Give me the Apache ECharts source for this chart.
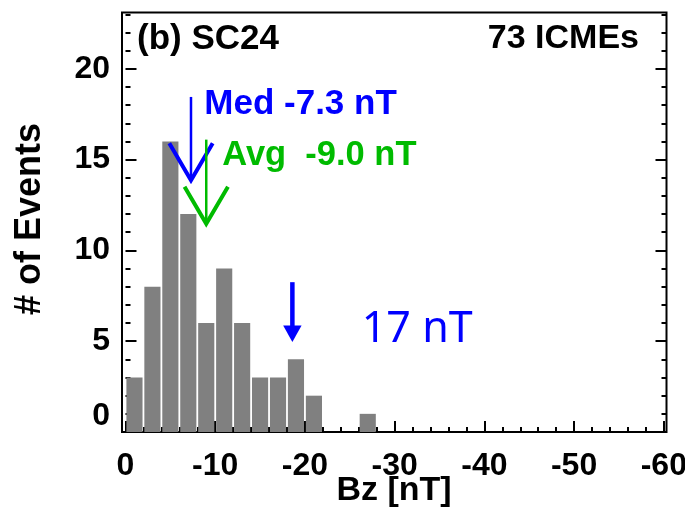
<!DOCTYPE html>
<html>
<head>
<meta charset="utf-8">
<script src="https://cdn.jsdelivr.net/npm/echarts@6/dist/echarts.min.js"></script>
<style>
  html, body { margin: 0; padding: 0; background: #ffffff; }
  #chart { width: 685px; height: 509px; }
</style>
</head>
<body>
<div id="chart"></div>
<script>
// Histogram of ICME Bz minima for solar cycle 24, in 2 nT bins from 0 toward negative values
const binStarts = [0, -2, -4, -6, -8, -10, -12, -14, -16, -18, -20, -22, -24, -26];
const binCounts = [3, 8, 16, 12, 6, 9, 6, 3, 3, 4, 2, 0, 0, 1];
const binWidth = 2;
const xTickLabels = [0, -10, -20, -30, -40, -50, -60];
const yTickLabels = [0, 5, 10, 15, 20];
const medianBz = -7.3;
const meanBz = -9.0;
const markerBz = -18.6;
const markerNote = '17 nT';
const panelLabel = '(b) SC24';

const FONT = '"Liberation Sans", Arial, Helvetica, sans-serif';
const BLUE = '#0000ff';
const GREEN = '#00bb00';
const X_MIN = -60.3, X_MAX = 0.39;
const Y_MIN = 0, Y_MAX = 23.1;

const eventTotal = binCounts.reduce((a, b) => a + b, 0);

const xMinorTicks = [];
for (let v = 0; v >= -60; v -= 2) xMinorTicks.push(v);
const yMinorTicks = [];
for (let v = 0; v <= 23; v += 1) yMinorTicks.push(v);

const labelFont = { color: '#000', fontFamily: FONT, fontWeight: 'bold', fontSize: 32 };

function xAxis(opts) {
  return Object.assign({
    type: 'value', gridIndex: 0, min: X_MIN, max: X_MAX, inverse: true, position: 'bottom',
    axisLine: { show: false }, splitLine: { show: false },
    axisLabel: { show: false }, axisTick: { show: false }
  }, opts);
}
function yAxis(opts) {
  return Object.assign({
    type: 'value', gridIndex: 0, min: Y_MIN, max: Y_MAX, position: 'left',
    axisLine: { show: false }, splitLine: { show: false },
    axisLabel: { show: false }, axisTick: { show: false }
  }, opts);
}
const tickStyle = { color: '#000', width: 2 };

// Open V-headed arrow with a text label beside the shaft
function openArrow(value, yTop, yTip, color, text, textDx, textDy, fontSize) {
  return {
    type: 'custom', xAxisIndex: 0, yAxisIndex: 0, z: 5, silent: true,
    data: [[value]],
    renderItem(params, api) {
      const top = api.coord([api.value(0), yTop]);
      const tip = api.coord([api.value(0), yTip]);
      return {
        type: 'group',
        children: [
          { type: 'line', shape: { x1: top[0], y1: top[1], x2: tip[0], y2: tip[1] },
            style: { stroke: color, lineWidth: 2.5 } },
          { type: 'polyline',
            shape: { points: [[tip[0] - 21.7, tip[1] - 37], [tip[0], tip[1]], [tip[0] + 21.7, tip[1] - 37]] },
            style: { stroke: color, lineWidth: 4, fill: null } },
          { type: 'text', x: top[0] + textDx, y: top[1] + textDy,
            style: { text: text, fill: color, font: 'bold ' + fontSize + 'px ' + FONT,
                     textAlign: 'left', textVerticalAlign: 'middle' } }
        ]
      };
    }
  };
}

const option = {
  backgroundColor: '#ffffff',
  animation: false,
  grid: { left: 122, right: 18.5, top: 12.5, bottom: 77, show: true,
          outerBoundsMode: 'none', containLabel: false,
          borderColor: '#000', borderWidth: 2, backgroundColor: 'transparent' },
  xAxis: [
    xAxis({ axisTick: { show: true, inside: true, length: 5, lineStyle: tickStyle, customValues: xMinorTicks } }),
    xAxis({ axisTick: { show: true, inside: true, length: 11, lineStyle: tickStyle, customValues: xTickLabels },
            axisLabel: Object.assign({ show: true, margin: 18, customValues: xTickLabels,
                                       hideOverlap: false, showMinLabel: true, showMaxLabel: true,
                                       formatter: v => String(v) }, labelFont) })
  ],
  yAxis: [
    yAxis({ axisTick: { show: true, inside: true, length: 5, lineStyle: tickStyle, customValues: yMinorTicks } }),
    yAxis({ axisTick: { show: true, inside: true, length: 11, lineStyle: tickStyle, customValues: yTickLabels },
            axisLabel: Object.assign({ show: true, margin: 12, customValues: yTickLabels,
                                       formatter: v => (v === 0 ? '{zero|0}' : String(v)),
                                       rich: { zero: Object.assign({ padding: [0, 0, 32, 0] }, labelFont) } }, labelFont) }),
    yAxis({ position: 'right', axisTick: { show: true, inside: true, length: 5, lineStyle: tickStyle, customValues: yMinorTicks } }),
    yAxis({ position: 'right', axisTick: { show: true, inside: true, length: 11, lineStyle: tickStyle, customValues: yTickLabels } })
  ],
  series: [
    {
      type: 'custom', xAxisIndex: 0, yAxisIndex: 0, z: 2, silent: true,
      data: binStarts.map((s, i) => [s, s - binWidth, binCounts[i]]),
      encode: { x: [0, 1], y: 2 },
      renderItem(params, api) {
        const c = api.value(2);
        if (!c) return null;
        const a = api.coord([api.value(0), c]);
        const b = api.coord([api.value(1), 0]);
        const x0 = Math.min(a[0], b[0]) + 0.9;
        const w = Math.abs(b[0] - a[0]) - 1.8;
        return { type: 'rect', shape: { x: x0, y: a[1], width: w, height: b[1] - a[1] },
                 style: { fill: '#808080' } };
      }
    },
    openArrow(medianBz, 18.45, 13.86, BLUE, 'Med ' + medianBz.toFixed(1) + ' nT', 13.3, 7.5, 35),
    openArrow(meanBz, 16.1, 11.47, GREEN, 'Avg  ' + meanBz.toFixed(1) + ' nT', 16, 15.7, 34.5),
    {
      type: 'custom', xAxisIndex: 0, yAxisIndex: 0, z: 5, silent: true,
      data: [[markerBz]],
      renderItem(params, api) {
        const top = api.coord([api.value(0), 8.25]);
        const tip = api.coord([api.value(0), 4.95]);
        const headBase = tip[1] - 16.7;
        return {
          type: 'group',
          children: [
            { type: 'line', shape: { x1: top[0], y1: top[1], x2: top[0], y2: headBase + 1 },
              style: { stroke: BLUE, lineWidth: 4.5 } },
            { type: 'polygon',
              shape: { points: [[tip[0] - 9.2, headBase], [tip[0] + 9.2, headBase], [tip[0], tip[1]]] },
              style: { fill: BLUE } },
            { type: 'text', x: top[0] + 69.4, y: top[1] + 47.5,
              style: { text: markerNote, fill: BLUE, font: '43px "Noto Sans", "Open Sans", sans-serif',
                       textAlign: 'left', textVerticalAlign: 'middle' } }
          ]
        };
      }
    }
  ],
  graphic: [
    { type: 'text', left: 137, top: 21.5, z: 10,
      style: { text: panelLabel, fill: '#000', font: 'bold 35px ' + FONT } },
    { type: 'text', right: 46, top: 22, z: 10,
      style: { text: eventTotal + ' ICMEs', fill: '#000', font: 'bold 34px ' + FONT } },
    { type: 'text', x: 30, y: 219, rotation: Math.PI / 2, z: 10,
      style: { text: '# of Events', fill: '#000', font: 'bold 36px ' + FONT,
               textAlign: 'center', textVerticalAlign: 'middle' } },
    { type: 'text', x: 394, y: 491, z: 10,
      style: { text: 'Bz [nT]', fill: '#000', font: 'bold 34px ' + FONT,
               textAlign: 'center', textVerticalAlign: 'middle' } }
  ]
};

const chart = echarts.init(document.getElementById('chart'), null, { renderer: 'canvas' });
chart.setOption(option);
</script>
</body>
</html>
